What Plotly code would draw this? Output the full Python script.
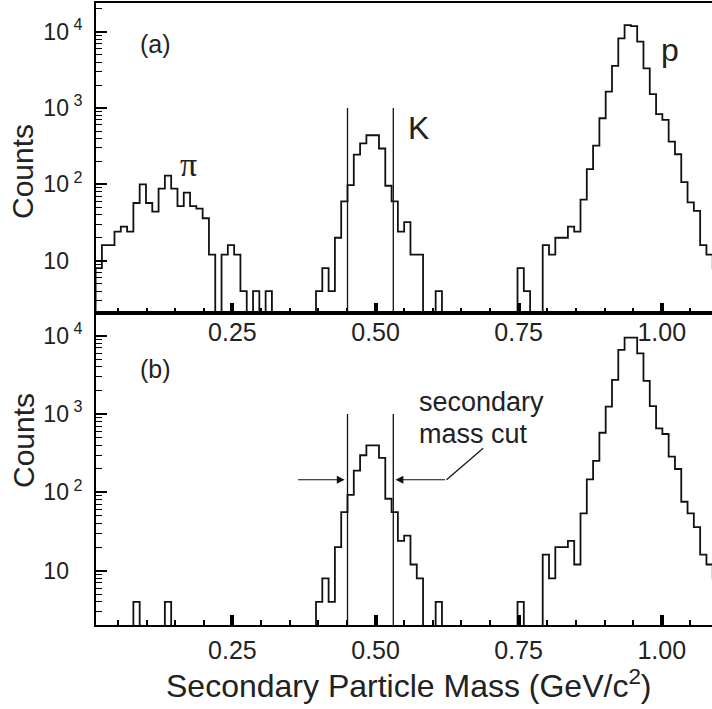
import math
import plotly.graph_objects as go

# ---------------- data ----------------
bin_width = 0.011          # GeV/c^2
n_bins = 100
bin_edges = [round(bin_width * i, 4) for i in range(n_bins + 1)]

# counts per bin (index = bin number), panel (a): no cut
counts_a = {
    1: 8, 2: 16, 3: 16, 4: 24, 5: 28, 6: 24, 7: 57, 8: 100, 9: 57, 10: 44,
    11: 88, 12: 130, 13: 88, 14: 52, 15: 78, 16: 52, 17: 48, 18: 36, 19: 12,
    21: 12, 22: 16, 23: 12, 24: 4, 26: 4, 28: 4,
    36: 4, 37: 8, 38: 4, 39: 20, 40: 60, 41: 98, 42: 245, 43: 345, 44: 440,
    45: 440, 46: 295, 47: 96, 48: 60, 49: 24, 50: 32, 51: 12, 52: 12, 55: 4,
    68: 8, 69: 4, 72: 16, 73: 12, 74: 20, 75: 20, 76: 28, 77: 24, 78: 63,
    79: 158, 80: 321, 81: 735, 82: 1640, 83: 3560, 84: 8200, 85: 12200,
    86: 11800, 87: 7400, 88: 3300, 89: 1520, 90: 830, 91: 700, 92: 363,
    93: 248, 94: 107, 95: 58, 96: 45, 97: 16, 98: 12, 99: 8,
}
# panel (b): with secondary mass cut
counts_b = {
    7: 4, 12: 4,
    36: 4, 37: 8, 38: 4, 39: 20, 40: 56, 41: 93, 42: 190, 43: 298, 44: 398,
    45: 398, 46: 276, 47: 83, 48: 56, 49: 24, 50: 28, 51: 12, 52: 8, 55: 4,
    68: 4, 72: 16, 73: 8, 74: 20, 75: 20, 76: 24, 77: 12, 78: 54, 79: 147,
    80: 252, 81: 578, 82: 1244, 83: 2730, 84: 6590, 85: 9460, 86: 9460,
    87: 5970, 88: 2650, 89: 1267, 90: 659, 91: 557, 92: 286, 93: 199,
    94: 76, 95: 54, 96: 36, 97: 16, 98: 12, 99: 8,
}
cut_lo, cut_hi, cut_top = 0.451, 0.531, 1000
x_tickvals = [0.25, 0.50, 0.75, 1.00]
x_ticktext = ["0.25", "0.50", "0.75", "1.00"]
y_tickvals = [10, 100, 1000, 10000]
y_ticktext = ["10<sup>\u00a0\u2007</sup>", "10<sup>\u00a02</sup>",
              "10<sup>\u00a03</sup>", "10<sup>\u00a04</sup>"]

FONT = "Liberation Sans, Arial, Helvetica, sans-serif"
FLOOR = 1e-2  # empty bins drawn below the axis


def step_xy(counts):
    vals = [counts.get(i, 0) for i in range(n_bins)]
    ys = [v if v > 0 else FLOOR for v in vals]
    return bin_edges, ys + [ys[-1]]


fig = go.Figure()
for counts, xa, ya in [(counts_a, "x", "y"), (counts_b, "x2", "y2")]:
    xs, ys = step_xy(counts)
    fig.add_trace(go.Scatter(x=xs, y=ys, mode="lines", line_shape="hv",
                             line=dict(color="#111", width=1.8),
                             xaxis=xa, yaxis=ya, showlegend=False,
                             hoverinfo="skip"))
    for c in (cut_lo, cut_hi):
        fig.add_trace(go.Scatter(x=[c, c], y=[FLOOR, cut_top], mode="lines",
                                 line=dict(color="#111", width=1.3),
                                 xaxis=xa, yaxis=ya, showlegend=False,
                                 hoverinfo="skip"))

# leader line for the "secondary mass cut" label
arrow_y = 145
fig.add_trace(go.Scatter(x=[cut_hi + 0.093, cut_hi + 0.157], y=[arrow_y, 366],
                         mode="lines", line=dict(color="#111", width=1.2),
                         xaxis="x2", yaxis="y2", showlegend=False,
                         hoverinfo="skip"))

XR = [0.0117, 1.0877]
D_SPLIT = 0.5011

xcommon = dict(range=XR, showline=True, linecolor="black", linewidth=2,
               mirror=True, ticks="inside", ticklen=10, tickwidth=3.5,
               tickcolor="black", tickvals=x_tickvals, ticktext=x_ticktext,
               tickfont=dict(family=FONT, size=25, color="#222"),
               minor=dict(ticks="inside", ticklen=5, tickwidth=1.5,
                          tickcolor="black", dtick=0.05, tick0=0),
               showgrid=False, zeroline=False, automargin=False)
ycommon = dict(type="log", showline=True, linecolor="black", linewidth=2,
               ticks="inside", ticklen=11, tickwidth=1.5, tickcolor="black",
               tickvals=y_tickvals, ticktext=y_ticktext,
               tickfont=dict(family=FONT, size=23, color="#222"),
               ticklabelstandoff=7,
               minor=dict(ticks="inside", ticklen=6, tickwidth=1.2,
                          tickcolor="black", dtick="D1"),
               showgrid=False, zeroline=False, automargin=False)

fig.update_layout(
    width=712, height=709,
    margin=dict(l=96, r=0, t=3, b=84, autoexpand=False),
    paper_bgcolor="white", plot_bgcolor="white",
    xaxis=dict(domain=[0, 1], anchor="y", ticklabelstandoff=-4, **xcommon),
    xaxis2=dict(domain=[0, 1], anchor="y2", ticklabelstandoff=2, **xcommon),
    yaxis=dict(domain=[D_SPLIT, 1], anchor="x", range=[0.311, 4.376], **ycommon),
    yaxis2=dict(domain=[0, D_SPLIT], anchor="x2", range=[0.3065, 4.287], **ycommon),
)


def px(X):
    return (X - 96) / 616


def py(Y):
    return (625 - Y) / 622


ann = []


def label(text, X, Y, size, family=FONT, **kw):
    ann.append(dict(text=text, x=px(X), y=py(Y), xref="paper", yref="paper",
                    showarrow=False, font=dict(family=family, size=size, color="#222"),
                    xanchor=kw.pop("xanchor", "center"), yanchor="middle", **kw))


label("(a)", 155, 44, 25)
label("(b)", 155, 369, 25)
label("\u03c0", 188, 165, 34, family="Liberation Serif, DejaVu Serif, serif")
label("K", 418, 128, 32)
label("p", 670, 50, 32)
label("secondary", 417, 402, 27, xanchor="left")
label("mass cut", 417, 434, 27, xanchor="left")
label("Counts", 23, 172, 30, textangle=-90)
label("Counts", 23, 441, 30, textangle=-90)
label("Secondary Particle Mass (GeV/c<sup>2</sup>)", 409, 684, 32)

ly = math.log10(arrow_y)
ann.append(dict(x=cut_lo - 0.005, y=ly, ax=cut_lo - 0.089, ay=ly,
                xref="x2", yref="y2", axref="x2", ayref="y2", text="",
                showarrow=True, arrowhead=2, arrowsize=1.3, arrowwidth=1.2,
                arrowcolor="#111"))
ann.append(dict(x=cut_hi + 0.004, y=ly, ax=cut_hi + 0.093, ay=ly,
                xref="x2", yref="y2", axref="x2", ayref="y2", text="",
                showarrow=True, arrowhead=2, arrowsize=1.3, arrowwidth=1.2,
                arrowcolor="#111"))
fig.update_layout(annotations=ann)

fig.write_html(
    "out.html",
    config={"displayModeBar": False},
    post_script="document.body.style.margin='0';"
                "document.documentElement.style.overflow='hidden';",
)
